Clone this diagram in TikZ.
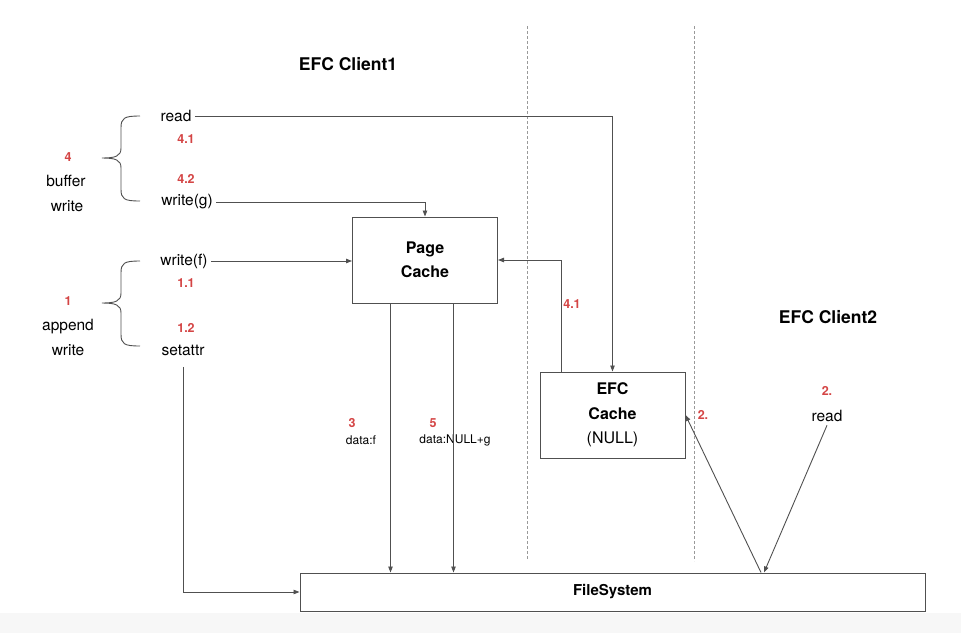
\documentclass[tikz,border=0pt]{standalone}
\usepackage{fontspec}
\setmainfont{TeX Gyre Heros}
\usetikzlibrary{arrows.meta}

\definecolor{numred}{HTML}{D44545}
\definecolor{linegray}{HTML}{505050}

\tikzset{
  box/.style={draw=linegray, line width=1pt, align=center, font=\fontsize{16}{24.5}\selectfont\bfseries},
  txt/.style={font=\fontsize{15.5}{18}\selectfont},
  num/.style={text=numred, font=\fontsize{12.5}{14}\selectfont\bfseries},
  small/.style={font=\fontsize{12}{14}\selectfont},
  title/.style={font=\fontsize{17.5}{20}\selectfont\bfseries},
  flow/.style={draw=linegray, line width=0.9pt, -{Triangle[length=6pt,width=4.5pt]}},
  sep/.style={draw=gray!80, line width=0.8pt, dash pattern=on 3pt off 2pt},
}

\begin{document}
\begin{tikzpicture}[x=1pt, y=-1pt]

    \useasboundingbox (0,0) rectangle (961,633);
    \fill[gray!6] (0,613) rectangle (961,633);

    \draw[sep] (527,26) -- (527,559);
    \draw[sep] (694,26) -- (694,561);

    \node[title] (cli1) at (348,64) {EFC Client1};
    \node[title] (cli2) at (828,317) {EFC Client2};

    % client1 calls
    \node[txt] (rdA) at (176,116) {read};
    \node[num] (n41a) at (186,139) {4.1};
    \node[num] (n42) at (186,179) {4.2};
    \node[txt] (wg) at (187,202) {write(g)};
    \node[txt] (wf) at (184,261) {write(f)};
    \node[num] (n11) at (186,283) {1.1};
    \node[num] (n12) at (186,328) {1.2};
    \node[txt] (sa) at (183,350) {setattr};

    \node[num] (n4) at (68,157) {4};
    \node[txt] (lbuf) at (66,181) {buffer};
    \node[txt] (lbw) at (67,206) {write};
    \node[num] (n1) at (68,301) {1};
    \node[txt] (lapp) at (68,327) {append};
    \node[txt] (law) at (68,350) {write};

    \draw[linegray, line width=0.9pt] (140,116) .. controls (124,116) and (121,118) .. (121,128) -- (121,148)
      .. controls (121,156) and (116,158) .. (102,158) .. controls (116,158) and (121,160) .. (121,168)
      -- (121,189) .. controls (121,199) and (124,201) .. (140,201);

    \begin{scope}[yshift=-145pt]

      \draw[linegray, line width=0.9pt] (140,116) .. controls (124,116) and (121,118) .. (121,128) -- (121,148)
        .. controls (121,156) and (116,158) .. (102,158) .. controls (116,158) and (121,160) .. (121,168)
        -- (121,189) .. controls (121,199) and (124,201) .. (140,201);

    \end{scope}

    % caches
    \node[box, minimum width=145pt, minimum height=86pt] (page) at (425,260) {Page\\Cache};
    \node[box, minimum width=145pt, minimum height=86pt] (efc) at (612.5,415) {EFC\\Cache\\{\mdseries (NULL)}};
    \node[box, font=\fontsize{15}{18}\selectfont\bfseries, minimum width=625pt, minimum height=38pt] (fs) at (612.5,592) {FileSystem};

    \node[num] (n3) at (352,423) {3};
    \node[small] (dataf) at (361,440) {data:f};
    \node[num] (n5) at (433,423) {5};
    \node[small] (datag) at (455,440) {data:NULL+g};
    \node[num] (n41b) at (572,304) {4.1};

    % client2
    \node[num] (n2a) at (703,415) {2.};
    \node[num] (n2b) at (827,391) {2.};
    \node[txt] (rdB) at (827,416) {read};

    \coordinate (efcUp) at ([xshift=22pt]efc.north west);
    \coordinate (pgA) at ([xshift=38.5pt]page.south west);
    \coordinate (pgB) at ([xshift=101.5pt]page.south west);
    \coordinate (saOut) at ([yshift=-8pt]sa.south);
    \coordinate (fsIn) at ([xshift=151.5pt]fs.north);
    \coordinate (fsOut) at ([xshift=148.5pt]fs.north);

    \draw[flow] (rdA.east) -| (efc.north);
    \draw[flow] (wg.east) -| (page.north);
    \draw[flow] (wf.east) -- (wf.east -| page.west);
    \draw[flow] (efcUp) |- (page.east);
    \draw[flow] (pgA) -- (pgA |- fs.north);
    \draw[flow] (pgB) -- (pgB |- fs.north);
    \draw[flow] (saOut) |- (fs.west);
    \draw[flow] (rdB.south) -- (fsIn);
    \draw[flow] (fsOut) -- (efc.east);

  \end{tikzpicture}
\end{document}
